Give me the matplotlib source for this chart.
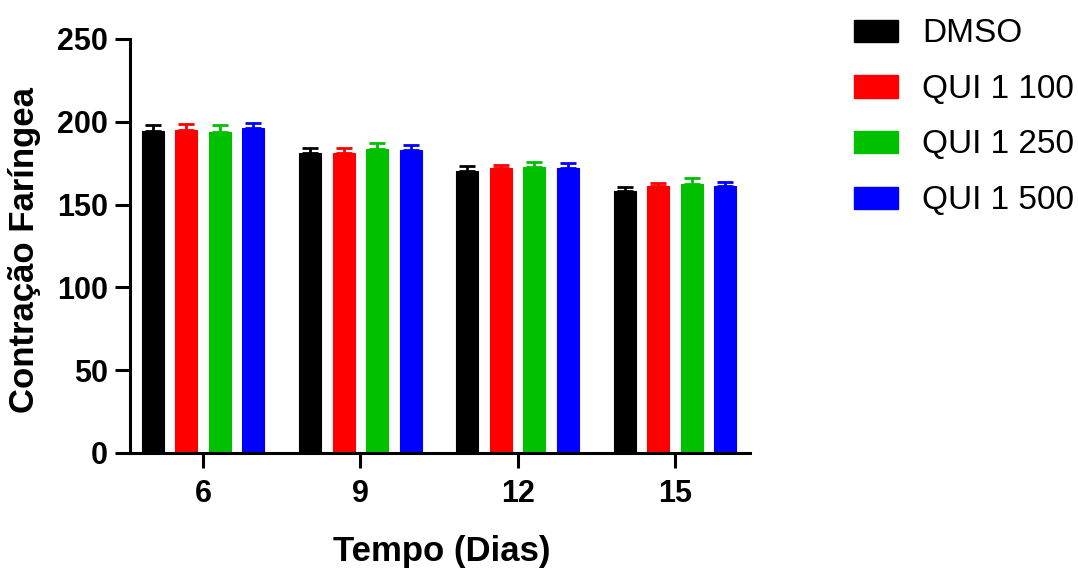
import matplotlib.pyplot as plt
import matplotlib.patches as mpatches
import numpy as np

plt.rcParams["font.family"] = ["Liberation Sans", "DejaVu Sans"]

days = ["6", "9", "12", "15"]
groups = ["DMSO", "QUI 1 100", "QUI 1 250", "QUI 1 500"]
colors = ["#000000", "#ff0000", "#00c000", "#0000ff"]

# means and SEM per group, one entry per day
means = {
    "DMSO": [194.6, 181.3, 170.3, 158.2],
    "QUI 1 100": [195.0, 181.3, 171.9, 161.4],
    "QUI 1 250": [193.6, 183.4, 172.5, 162.4],
    "QUI 1 500": [196.0, 183.0, 172.0, 161.2],
}
errs = {
    "DMSO": [3.5, 2.7, 3.0, 2.6],
    "QUI 1 100": [3.6, 2.7, 2.2, 1.8],
    "QUI 1 250": [4.4, 4.0, 3.5, 3.8],
    "QUI 1 500": [3.0, 3.0, 3.0, 2.3],
}

W, H = 1078, 574
fig = plt.figure(figsize=(W / 100, H / 100), dpi=100)
ax = fig.add_axes([130 / W, 1 - 453 / H, 620 / W, 414 / H])

x = np.arange(len(days))
width = 0.14
step = 0.213
for i, (g, c) in enumerate(zip(groups, colors)):
    pos = x + (i - 1.5) * step
    ax.bar(pos, means[g], width, color=c, edgecolor=c, linewidth=0.8, zorder=2)
    ax.errorbar(pos, means[g], yerr=[np.zeros(len(days)), errs[g]], fmt="none",
                ecolor=c, elinewidth=2, capsize=6, capthick=2, zorder=3)

ax.set_xlim(-0.464, 3.477)
ax.set_ylim(0, 250)
ax.set_yticks([0, 50, 100, 150, 200, 250])
ax.set_xticks(x)
ax.set_xticklabels(days)
for s in ["top", "right"]:
    ax.spines[s].set_visible(False)
for s in ["left", "bottom"]:
    ax.spines[s].set_linewidth(2.2)
ax.tick_params(width=2.2, length=11, labelsize=22)
ax.tick_params(axis="y", pad=5)
ax.tick_params(axis="x", pad=8)
for lab in ax.get_xticklabels() + ax.get_yticklabels():
    lab.set_fontweight("bold")

# axis titles placed in figure pixels
fig.text(442 / W, 1 - 552 / H, "Tempo (Dias)", fontsize=25, fontweight="bold",
         ha="center", va="center")
fig.text(25 / W, 1 - 250 / H, "Contração Faríngea", fontsize=25,
         fontweight="bold", rotation=90, ha="center", va="center")

# legend drawn by hand, one row per group
for i, (g, c) in enumerate(zip(groups, colors)):
    base = 42 + i * 55.5
    fig.patches.append(mpatches.Rectangle((854 / W, 1 - base / H), 44 / W, 22 / H,
                                          transform=fig.transFigure, color=c))
    fig.text(922 / W, 1 - base / H, g, fontsize=24, ha="left", va="baseline")

fig.savefig("out.png", dpi=100)
